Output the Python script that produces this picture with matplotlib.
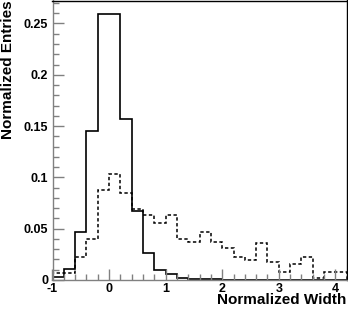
import matplotlib
matplotlib.use("Agg")
import matplotlib.pyplot as plt
import numpy as np
from matplotlib.ticker import MultipleLocator

bin_edges = [-1.0, -0.8, -0.6, -0.4, -0.2, 0.0, 0.2, 0.4, 0.6, 0.8, 1.0, 1.2, 1.4,
             1.6, 1.8, 2.0, 2.2, 2.4, 2.6, 2.8, 3.0, 3.2, 3.4, 3.6, 3.8, 4.0, 4.2]
solid_vals = [0.003, 0.011, 0.047, 0.145, 0.259, 0.259, 0.157, 0.067, 0.026, 0.010,
              0.0058, 0.0022, 0.0008, 0.0006, 0.0006, 0.0, 0.0, 0.0, 0.0, 0.0, 0.0,
              0.0, 0.0, 0.0, 0.0, 0.0]
dashed_vals = [0.0065, 0.0065, 0.022, 0.040, 0.0874, 0.103, 0.0848, 0.069, 0.063, 0.056,
               0.063, 0.0397, 0.0374, 0.0465, 0.0374, 0.031, 0.022, 0.0195, 0.0357, 0.0172,
               0.008, 0.0156, 0.022, 0.0017, 0.008, 0.008]
x_label = "Normalized Width"
y_label = "Normalized Entries"

plt.rcParams['font.family'] = ['Liberation Sans', 'DejaVu Sans']
plt.rcParams['font.weight'] = 'bold'

W, H = 348, 311
fig = plt.figure(figsize=(W / 100, H / 100), dpi=100)
x0, x1 = 52.5, 346.7
y_top, y_bot = 0.5, 280.0
ax = fig.add_axes([x0 / W, (H - y_bot) / H, (x1 - x0) / W, (y_bot - y_top) / H])

ax.stairs(solid_vals, bin_edges, color='black', linewidth=1.2)
ax.stairs(dashed_vals, bin_edges, color='black', linewidth=1.1, linestyle=(0, (2.2, 1.6)))

ax.set_xlim(-1.0, 4.2)
ax.set_ylim(0, 0.2724)

gray = '#808080'
for s in ['left', 'bottom']:
    ax.spines[s].set_color(gray)
    ax.spines[s].set_linewidth(1.0)
for s in ['top', 'right']:
    ax.spines[s].set_color('black')
    ax.spines[s].set_linewidth(1.0)

ax.xaxis.set_major_locator(MultipleLocator(1))
ax.xaxis.set_minor_locator(MultipleLocator(0.2))
ax.yaxis.set_major_locator(MultipleLocator(0.05))
ax.yaxis.set_minor_locator(MultipleLocator(0.01))
ax.tick_params(which='major', direction='in', length=8, width=1, color=gray,
               labelsize=9, pad=3)
ax.tick_params(axis='x', which='major', pad=2)
ax.tick_params(which='minor', direction='in', length=4, width=1, color=gray)
ax.tick_params(top=False, right=False, which='both')

def yfmt(v, pos):
    if abs(v) < 1e-9:
        return "0"
    return ("%g" % round(v, 3))
ax.yaxis.set_major_formatter(plt.FuncFormatter(yfmt))
ax.xaxis.set_major_formatter(plt.FuncFormatter(lambda v, p: "%d" % round(v)))
for lab in ax.get_xticklabels() + ax.get_yticklabels():
    lab.set_fontweight('bold')

fig.text(x1 / W, 1 - 300.5 / H, x_label, ha='right', va='center', fontsize=11,
         fontweight='bold')
fig.text(8.5 / W, 1 - 0.5 / H, y_label, ha='center', va='top', rotation=90,
         fontsize=11, fontweight='bold')

fig.savefig("out.png", dpi=100)
